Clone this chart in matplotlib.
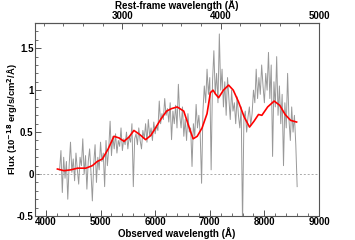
import numpy as np
import matplotlib.pyplot as plt
from matplotlib.ticker import MultipleLocator, FixedLocator

plt.rcParams['font.family'] = ['Liberation Sans', 'DejaVu Sans']
plt.rcParams['font.weight'] = 'bold'
plt.rcParams['mathtext.default'] = 'bf'

z = 0.8

# observed spectrum, 25 A steps from 4250 A
spec_start = 4250
spec_step = 25
spec_flux = [
    0.05, 0.28, -0.22, 0.20, -0.05, 0.15, -0.30, 0.10,
    0.38, 0.02, 0.18, -0.08, 0.25, 0.05, -0.12, 0.20,
    0.10, 0.42, 0.00, 0.22, -0.18, 0.15, 0.30, 0.02,
    -0.32, 0.12, 0.35, -0.10, 0.20, 0.05, 0.38, 0.15,
    0.25, -0.15, 0.40, 0.10, 0.30, 0.63, 0.22, 0.45,
    0.30, 0.48, 0.25, 0.40, 0.33, 0.55, 0.28, 0.42,
    0.35, 0.50, 0.30, 0.45, 0.38, 0.60, -0.15, 0.42,
    0.48, 0.35, 0.55, 0.40, 0.30, 0.52, 0.42, 0.60,
    0.38, 0.65, 0.45, 0.55, 0.40, 0.62, 0.48, 0.58,
    0.52, 0.87, 0.60, 0.72, 0.65, 0.90, 0.70, 0.78,
    0.62, 0.85, 0.41, 0.75, 0.60, 0.82, 0.55, 1.07,
    0.70, 0.55, 0.80, 0.45, 0.65, 0.40, 0.72, 0.50,
    0.55, 0.09, 0.60, 0.45, 0.83, 0.55, 0.70, 0.48,
    -0.11, 0.75, 1.05, 0.85, 1.25, 0.95, 1.15, 0.05,
    1.10, 1.47, 0.95, 1.20, 0.85, 1.67, 1.00, 1.25,
    0.80, 1.10, 0.70, 1.15, 0.90, 0.65, 1.00, 0.75,
    0.85, 0.60, 0.92, 0.70, 0.55, 0.80, -0.60, 0.65,
    0.75, 0.50, 0.68, 0.80, 0.58, 0.72, 1.00, 0.85,
    1.25, 0.90, 1.15, 0.95, 1.30, 1.05, 0.85, 1.20,
    1.00, 1.45, 0.90, 1.30, 0.21, 1.10, 0.80, 1.40,
    0.70, 1.05, 0.60, 0.95, 0.10, 0.85, 0.55, 1.20,
    0.65, 0.40, 0.80, 0.50, 0.70, 0.35, -0.15,
]
spec_wave = spec_start + spec_step * np.arange(len(spec_flux))

# model fit
model_wave = [4210, 4330, 4450, 4580, 4730, 4850, 4940, 5035, 5140, 5246,
              5340, 5429, 5520, 5611, 5720, 5825, 5920, 6007, 6100, 6208,
              6300, 6403, 6524, 6610, 6695, 6770, 6859, 6950, 7011, 7060,
              7110, 7162, 7250, 7345, 7430, 7527, 7630, 7728, 7810, 7892,
              7954, 8060, 8179, 8280, 8380, 8480, 8590]
model_flux = [0.06, 0.04, 0.05, 0.07, 0.07, 0.10, 0.15, 0.18, 0.30, 0.45,
              0.43, 0.39, 0.44, 0.52, 0.47, 0.41, 0.46, 0.55, 0.65, 0.75,
              0.78, 0.80, 0.75, 0.58, 0.42, 0.45, 0.55, 0.72, 0.97, 1.00,
              0.95, 0.91, 1.00, 1.06, 1.00, 0.86, 0.68, 0.56, 0.63, 0.71,
              0.70, 0.80, 0.87, 0.82, 0.71, 0.64, 0.62]

rest_ticks = [3000, 4000, 5000]

fig = plt.figure(figsize=(3.55, 2.4), dpi=100)
ax = fig.add_axes([0.0986, 0.1, 0.8, 0.804])

ax.axhline(0, color='#aaaaaa', lw=0.7, ls=(0, (2, 2)))
ax.plot(spec_wave, spec_flux, color='#999999', lw=0.7)
ax.plot(model_wave, model_flux, color='red', lw=1.2)

ax.set_xlim(3800, 9000)
ax.set_ylim(-0.5, 1.8)
ax.xaxis.set_major_locator(MultipleLocator(1000))
ax.xaxis.set_minor_locator(MultipleLocator(200))
ax.yaxis.set_minor_locator(MultipleLocator(0.1))
ax.set_yticks([-0.5, 0, 0.5, 1, 1.5])
ax.set_yticklabels(['-0.5', '0', '0.5', '1', '1.5'])
ax.tick_params(which='both', direction='in', labelsize=7, colors='#555555',
               labelcolor='black', right=False, top=False)
ax.tick_params(axis='x', pad=1)
ax.tick_params(axis='y', pad=1)
ax.tick_params(which='major', length=4.5, width=0.7)
ax.tick_params(which='minor', length=2.5, width=0.6)
for sp in ax.spines.values():
    sp.set_color('#555555')
    sp.set_linewidth(0.8)

ax.set_xlabel('Observed wavelength (Å)', fontsize=7, fontweight='bold', labelpad=-0.5)
ax.set_ylabel('Flux (10$^{-18}$ erg/s/cm$^{2}$/Å)', fontsize=6.8, fontweight='bold')
ax.yaxis.set_label_coords(-0.052, 0.5)

top = ax.secondary_xaxis('top', functions=(lambda w: w / (1 + z), lambda w: w * (1 + z)))
top.xaxis.set_major_locator(FixedLocator(rest_ticks))
top.xaxis.set_minor_locator(FixedLocator(np.arange(2200, 5000, 200)))
top.tick_params(which='both', direction='in', labelsize=7, colors='#555555',
                labelcolor='black', pad=1.5)
top.tick_params(which='major', length=4.5, width=0.7)
top.tick_params(which='minor', length=2.5, width=0.6)
top.spines['top'].set_color('#555555')
top.set_xlabel('Rest-frame wavelength (Å)', fontsize=7, fontweight='bold', labelpad=1.5)

for lab in ax.get_xticklabels() + ax.get_yticklabels() + top.get_xticklabels():
    lab.set_fontweight('bold')

fig.savefig('out.png', dpi=100)
